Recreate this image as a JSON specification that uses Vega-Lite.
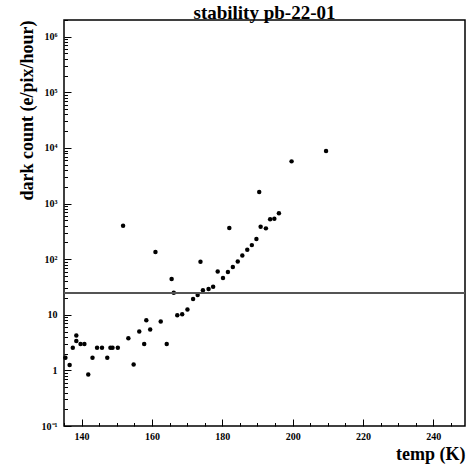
{
  "$schema": "https://vega.github.io/schema/vega-lite/v6.json",
  "width": 401,
  "height": 406,
  "autosize": "none",
  "padding": {"left": 64, "top": 20, "right": 5, "bottom": 40},
  "background": "white",
  "config": {
    "view": {"stroke": "black", "strokeWidth": 1.5},
    "font": "Liberation Serif",
    "axis": {"domain": false, "grid": false, "labelFont": "Liberation Serif", "labelFontWeight": "bold", "labelFontSize": 10, "labelColor": "black", "tickColor": "black", "titleFont": "Liberation Serif", "titleFontWeight": "bold", "titleFontSize": 18, "titleColor": "black"}
  },
  "title": {"text": "stability pb-22-01", "font": "Liberation Serif", "fontWeight": "bold", "fontSize": 19, "anchor": "middle", "frame": "group", "offset": 0, "dy": 23, "baseline": "alphabetic", "color": "black"},
  "data": {"values": [
    {"temp": 135.4, "dc": 1.69}, {"temp": 136.6, "dc": 1.25}, {"temp": 137.5, "dc": 2.56}, {"temp": 138.5, "dc": 4.26},
    {"temp": 138.5, "dc": 3.37}, {"temp": 139.7, "dc": 2.97}, {"temp": 140.8, "dc": 2.97}, {"temp": 141.9, "dc": 0.84},
    {"temp": 143.1, "dc": 1.69}, {"temp": 144.4, "dc": 2.56}, {"temp": 145.8, "dc": 2.56}, {"temp": 147.3, "dc": 1.69},
    {"temp": 148.2, "dc": 2.56}, {"temp": 148.8, "dc": 2.56}, {"temp": 150.3, "dc": 2.56}, {"temp": 151.8, "dc": 400},
    {"temp": 153.3, "dc": 3.8}, {"temp": 154.8, "dc": 1.28}, {"temp": 156.4, "dc": 5.0}, {"temp": 157.8, "dc": 2.97},
    {"temp": 158.4, "dc": 8.0}, {"temp": 159.5, "dc": 5.46}, {"temp": 161.0, "dc": 134}, {"temp": 162.5, "dc": 7.6},
    {"temp": 164.2, "dc": 2.97}, {"temp": 165.6, "dc": 43.9}, {"temp": 166.2, "dc": 25}, {"temp": 167.2, "dc": 9.8},
    {"temp": 168.6, "dc": 10.2}, {"temp": 170.1, "dc": 12.5}, {"temp": 171.7, "dc": 19.2}, {"temp": 173.0, "dc": 22.6},
    {"temp": 173.8, "dc": 90}, {"temp": 174.5, "dc": 27.5}, {"temp": 176.1, "dc": 29}, {"temp": 177.4, "dc": 32},
    {"temp": 178.7, "dc": 60}, {"temp": 180.2, "dc": 45.7}, {"temp": 181.6, "dc": 58.6}, {"temp": 182.0, "dc": 362},
    {"temp": 183.0, "dc": 72}, {"temp": 184.4, "dc": 91}, {"temp": 185.7, "dc": 116}, {"temp": 187.1, "dc": 148},
    {"temp": 188.4, "dc": 179}, {"temp": 189.7, "dc": 230}, {"temp": 190.5, "dc": 1610}, {"temp": 190.9, "dc": 384},
    {"temp": 192.4, "dc": 358}, {"temp": 193.6, "dc": 520}, {"temp": 194.8, "dc": 535}, {"temp": 196.1, "dc": 667},
    {"temp": 199.7, "dc": 5740}, {"temp": 209.5, "dc": 8800}
  ]},
  "layer": [
    {
      "mark": {"type": "circle", "color": "black", "opacity": 1, "size": 20},
      "encoding": {
        "x": {"field": "temp", "type": "quantitative",
          "scale": {"domain": [135, 249], "nice": false, "zero": false},
          "axis": {
            "title": "temp (K)", "titleAnchor": "end", "titleAlign": "right", "titleBaseline": "alphabetic", "titleX": 401, "titleY": 33,
            "values": [135,140,145,150,155,160,165,170,175,180,185,190,195,200,205,210,215,220,225,230,235,240,245],
            "labelExpr": "datum.value % 20 == 0 ? datum.label : ''",
            "tickSize": {"condition": {"test": "datum.value % 20 == 0", "value": -7}, "value": -3.5},
            "labelPadding": 12, "labelFlush": false, "labelOverlap": false
          }
        },
        "y": {"field": "dc", "type": "quantitative",
          "scale": {"type": "log", "domain": [0.1, 2000000], "nice": false},
          "axis": {
            "title": "dark count (e/pix/hour)", "titleAnchor": "end", "titleAlign": "right", "titleAngle": -90, "titleBaseline": "alphabetic", "titleX": -32, "titleY": 0,
            "values": [0.1,0.2,0.3,0.4,0.5,0.6,0.7,0.8,0.9,1,2,3,4,5,6,7,8,9,10,20,30,40,50,60,70,80,90,100,200,300,400,500,600,700,800,900,1000,2000,3000,4000,5000,6000,7000,8000,9000,10000,20000,30000,40000,50000,60000,70000,80000,90000,100000,200000,300000,400000,500000,600000,700000,800000,900000,1000000,2000000],
            "labelExpr": "datum.value == 0.1 ? '10⁻¹' : datum.value == 1 ? '1' : datum.value == 10 ? '10' : datum.value == 100 ? '10²' : datum.value == 1000 ? '10³' : datum.value == 10000 ? '10⁴' : datum.value == 100000 ? '10⁵' : datum.value == 1000000 ? '10⁶' : ''",
            "tickSize": {"condition": {"test": "abs(log(datum.value)/LN10 - round(log(datum.value)/LN10)) < 0.000001", "value": -7}, "value": -3.5},
            "labelPadding": 14, "labelOverlap": false, "labelFlush": false
          }
        }
      }
    },
    {
      "mark": {"type": "rule", "color": "#555555", "strokeWidth": 1.5},
      "encoding": {"y": {"datum": 25, "type": "quantitative"}}
    }
  ]
}
